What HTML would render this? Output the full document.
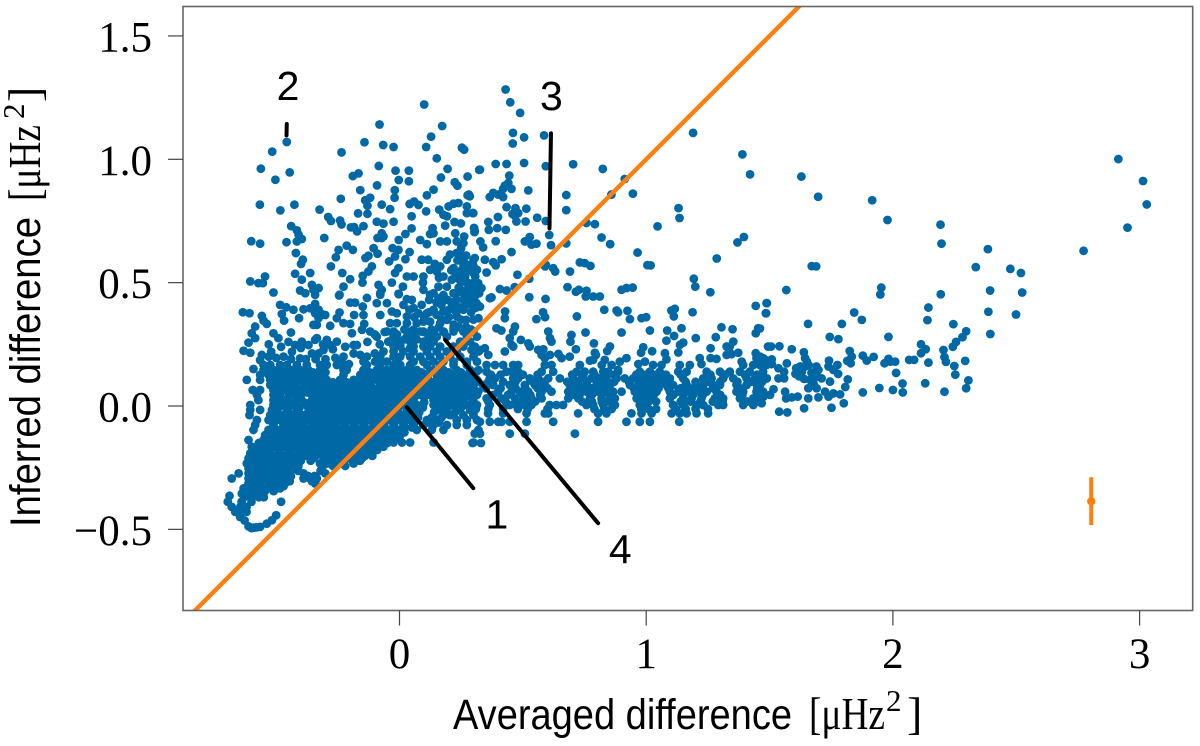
<!DOCTYPE html>
<html lang="en">
<head>
<meta charset="utf-8">
<title>Inferred vs averaged difference</title>
<style>
html,body{margin:0;padding:0;background:#fff;}
svg{display:block;}
.tick-label{font-family:"Liberation Serif",serif;font-size:43px;fill:#000;}
.sans-title{font-family:"Liberation Sans",sans-serif;font-size:43px;fill:#000;}
.serif-title{font-family:"Liberation Serif",serif;font-size:46px;fill:#000;}
.note{font-family:"Liberation Sans",sans-serif;font-size:41px;fill:#000;}
</style>
</head>
<body>
<svg id="chart" xmlns="http://www.w3.org/2000/svg" width="1200" height="746" viewBox="0 0 1200 746">
  <rect x="0" y="0" width="1200" height="746" fill="#fff"/>
  <defs><clipPath id="plot-clip"><rect x="183" y="6.5" width="1009.7" height="604"/></clipPath></defs>
  <g id="dots" clip-path="url(#plot-clip)"></g>
  <g id="overlays" clip-path="url(#plot-clip)"></g>
  <rect x="183" y="6.5" width="1009.7" height="604" fill="none" stroke="#666" stroke-width="1.6"/>
  <g id="axes"></g>
  <g>
    <text class="sans-title" x="453" y="729" textLength="339" lengthAdjust="spacingAndGlyphs">Averaged difference</text>
    <text class="serif-title" x="809" y="729" textLength="76" lengthAdjust="spacingAndGlyphs">[μHz</text>
    <text class="serif-title" x="886" y="711" style="font-size:31px">2</text>
    <text class="serif-title" x="907" y="729">]</text>
  </g>
  <g transform="translate(40,527) rotate(-90)">
    <text class="sans-title" x="0" y="0" textLength="310" lengthAdjust="spacingAndGlyphs">Inferred difference</text>
    <text class="serif-title" x="326" y="0" textLength="76" lengthAdjust="spacingAndGlyphs">[μHz</text>
    <text class="serif-title" x="408" y="-16" style="font-size:31px">2</text>
    <text class="serif-title" x="425" y="0">]</text>
  </g>
</svg>
<script>
const xTicks = [0, 1, 2, 3];
const xTickLabels = ["0", "1", "2", "3"];
const yTicks = [-0.5, 0, 0.5, 1, 1.5];
const yTickLabels = ["\u22120.5", "0.0", "0.5", "1.0", "1.5"];

const upperFanPoints = [[.1,1.222],[-.081,1.141],[.173,1.135],[-.142,1.069],[-.235,1.028],[-.457,1.07],[-.516,1.031],[-.066,1.058],[-.024,1.05],[.108,1.05],[.128,1.092],[.253,1.047],[.262,1.039],[.151,1.004],[-.562,.962],[-.445,.947],[-.503,.917],[-.084,.973],[-.016,.954],[.038,.954],[-.189,.932],[-.166,.943],[-.003,.916],[.038,.911],[.168,.926],[.195,.961],[.276,.93],[.323,.957],[-.091,.894],[-.159,.875],[.224,.907],[.235,.893],[.138,.877],[-.019,.875],[-.02,.844],[.111,.854],[-.238,.84],[-.139,.834],[-.119,.844],[-.13,.812],[-.13,.779],[-.072,.816],[-.038,.798],[.276,.854],[.281,.857],[-.566,.816],[-.426,.816],[-.483,.793],[-.324,.796],[-.168,.781],[-.289,.766],[-.278,.75],[-.241,.752],[-.235,.736],[-.197,.724],[-.184,.725],[-.146,.729],[-.172,.708],[-.092,.747],[-.065,.739],[-.024,.747],[.049,.769],[.049,.72],[.108,.789],[.041,.819],[.059,.829],[.077,.815],[.161,.796],[.178,.775],[.192,.769],[.199,.809],[.219,.82],[.239,.823],[.273,.809],[.273,.782],[.297,.782],[.223,.746],[.249,.74],[.185,.731],[.134,.721],[.124,.697],[.138,.7],[.303,.72],[.304,.705],[.024,.697],[-.072,.7],[-.065,.687],[-.089,.681],[-.072,.681],[-.003,.673],[.084,.673],[.111,.656],[.165,.667],[.192,.667],[.226,.7],[.262,.687],[.232,.667],[.259,.66],[-.439,.729],[-.416,.712],[-.409,.694],[-.416,.667],[-.396,.677],[-.601,.668],[-.565,.658],[-.458,.664],[-.305,.681],[-.42,.62],[-.392,.593],[-.399,.576],[-.247,.633],[-.214,.65],[-.189,.633],[-.258,.603],[-.105,.64],[-.089,.617],[-.138,.6],[-.126,.609],[-.028,.64],[-.004,.633],[-.018,.606],[.041,.624],[.024,.595],[-.042,.586],[-.278,.566],[-.112,.566],[-.126,.545],[-.149,.528],[-.004,.559],[-.018,.539],[-.031,.5],[-.232,.539],[-.2,.514],[-.227,.484],[-.15,.5],[-.423,.536],[-.362,.539],[-.396,.512],[-.545,.525],[-.605,.505],[-.572,.498],[-.554,.498],[-.511,.46],[-.403,.468],[-.355,.491],[-.349,.471],[-.328,.478],[-.382,.457],[-.342,.451],[-.245,.448],[.03,.525],[.057,.525],[.097,.525],[.095,.5],[.097,.471],[-.085,.491],[-.072,.471],[-.078,.451],[.014,.484],[-.003,.453],[.09,.593],[.116,.593],[.143,.576],[.124,.552],[.151,.545],[.165,.566],[.178,.525],[.158,.484],[.138,.457]];

const centralColumnPoints = [[.259,.593],[.273,.573],[.253,.552],[.266,.525],[.259,.505],[.28,.484],[.259,.457],[.3,.593],[.314,.552],[.307,.525],[.205,.614],[.192,.593],[.219,.559],[.212,.512],[.192,.484],[.232,.62],[.286,.457],[.314,.471],[.232,.457],[.3,.43],[.259,.43],[.219,.457],[.178,.45],[.24,.54],[.27,.61],[.285,.55],[.235,.59],[.275,.5],[.24,.48],[.3,.5],[.21,.55],[.245,.51],[.28,.44],[.23,.43],[.195,.43],[.16,.52],[.29,.47],[.25,.64],[.245,.62],[.26,.57],[.225,.52],[.25,.47],[.27,.41],[.24,.4],[.21,.42],[.17,.41],[.15,.42],[.12,.43],[.09,.41],[.2,.39],[.23,.38],[.25,.35],[.2,.36],[.17,.35],[.29,.38],[.3,.35],[.22,.33],[.16,.32],[.13,.31],[.24,.32],[.27,.32],[.29,.31],[.1,.36],[.12,.38],[.15,.37],[.06,.36],[.04,.39]];

const rightUpperPoints = [[.43,1.283],[.449,1.231],[.489,1.188],[.46,1.107],[.505,1.089],[.459,1.064],[.586,1.097],[.39,.981],[.434,.981],[.505,.985],[.326,.958],[.593,.972],[.704,.98],[.824,.961],[.445,.934],[.427,.893],[.441,.904],[.454,.88],[.42,.88],[.522,.874],[.366,.847],[.38,.864],[.4,.857],[.42,.847],[.676,.855],[.859,.857],[.913,.92],[.946,.861],[1.19,1.107],[1.39,1.02],[1.421,.939],[1.131,.802],[1.135,.762],[1.046,.728],[.676,.794],[.434,.806],[.47,.802],[.514,.8],[.458,.778],[.481,.782],[.468,.771],[.399,.766],[.36,.746],[.362,.714],[.396,.721],[.431,.714],[.474,.748],[.511,.748],[.558,.763],[.593,.75],[.758,.742],[.792,.737],[.607,.693],[.528,.685],[.508,.667],[.535,.654],[.555,.658],[.614,.652],[.676,.659],[.819,.683],[.854,.656],[.965,.622],[.39,.668],[.328,.667],[.339,.643],[.454,.624],[.285,.85],[.299,.782],[.302,.722],[.305,.709],[.346,.593],[.38,.583],[.39,.57],[.414,.595],[.353,.541],[.305,.6],[.299,.57],[.312,.55],[.299,.54],[.593,.572],[.623,.559],[.631,.545],[.59,.566],[.691,.545],[.731,.582],[.751,.579],[.774,.568],[.478,.532],[.526,.516],[1.005,.571],[1.018,.57],[1.286,.598],[1.37,.663],[1.396,.685],[1.193,.516],[1.199,.484],[1.26,.461],[.681,.482],[.715,.463],[.727,.471],[.758,.467],[.755,.444],[.785,.444],[.812,.444],[.9,.471],[.92,.478],[.945,.48],[.407,.474],[.434,.468],[.467,.482],[.526,.441],[.592,.434],[.373,.44],[.366,.437],[.319,.498],[.332,.478],[.323,.457],[.305,.444],[.312,.417],[.326,.403],[.299,.403],[.428,.383],[.427,.356],[.582,.38],[.59,.36],[.555,.352],[.719,.363],[.83,.39],[.88,.387],[.886,.38],[.924,.386],[.934,.352],[.981,.356],[1,.36],[1.102,.387],[1.116,.394],[1.112,.363],[1.188,.38],[1.444,.406],[1.488,.417],[1.485,.376]];

const aboveBandPoints = [[1.015,.306],[.9,.298],[1.085,.306],[1.113,.284],[1.143,.315],[1.082,.265],[1.15,.257],[1.137,.248],[1.13,.217],[1.201,.275],[1.305,.319],[1.35,.311],[1.282,.279],[1.444,.295],[1.454,.315],[1.353,.261],[1.326,.241],[1.339,.241],[1.261,.234],[1.326,.207],[1.346,.21],[1.373,.216],[1.444,.214],[1.494,.241],[.468,.322],[.393,.315],[.413,.306],[.461,.302],[.603,.302],[.61,.275],[.616,.261],[.697,.288],[.693,.261],[.754,.298],[.788,.254],[.492,.268],[.522,.254],[.528,.241],[.447,.275],[.454,.248],[.427,.221],[.461,.241],[.715,.23],[.853,.241],[.842,.223],[.792,.216],[.796,.207],[.988,.238],[.979,.216],[1.024,.222],[1.076,.214],[1.082,.189],[.562,.228],[.583,.23],[.576,.207],[.589,.194],[.644,.211],[.61,.207],[.657,.194],[.69,.2],[1.217,.194],[1.224,.17],[1.261,.194],[1.285,.191],[1.387,.18],[1.447,.194],[1.474,.194],[1.494,.18],[.92,.194],[.893,.18],[.886,.146],[.995,.18],[.968,.17],[.772,.184],[.785,.187],[.832,.187],[.305,.241],[.346,.234],[.326,.227],[.292,.227],[.36,.207]];

const bandRows = [
 [.166,[.353,.387,.42,.461,.481,.589,.616,.731,.82,.86,1.028,1.062,1.136,1.177,1.393,1.434,1.461,1.488]],
 [.139,[.312,.353,.434,.454,.481,.576,.623,.718,.751,.785,.826,.846,.886,.974,1.015,1.055,1.13,1.164,1.245,1.299,1.339,1.38,1.42,1.474]],
 [.112,[.366,.387,.461,.481,.528,.562,.603,.65,.704,.738,.778,.812,.839,.88,.913,.947,.988,1.022,1.055,1.096,1.15,1.231,1.265,1.312,1.353,1.407,1.441,1.488]],
 [.085,[.299,.339,.38,.447,.508,.549,.589,.69,.725,.758,.799,.826,.853,.934,.968,1.001,1.035,1.082,1.109,1.164,1.231,1.272,1.299,1.366,1.407,1.461]],
 [.058,[.292,.319,.4,.454,.488,.522,.576,.616,.684,.718,.758,.805,.839,.866,.9,.954,.981,1.015,1.042,1.096,1.13,1.164,1.204,1.245,1.285,1.366,1.393,1.447,1.474]],
 [.031,[.299,.353,.413,.468,.508,.535,.576,.684,.725,.772,.819,.853,.873,.961,.988,1.022,1.096,1.15,1.184,1.224,1.278,1.312,1.38,1.434,1.461]],
 [.004,[.292,.312,.366,.447,.474,.508,.535,.609,.636,.663,.758,.785,.826,.873,.974,1.001,1.109,1.15,1.204,1.231,1.292,1.312,1.393,1.434]],
 [-.03,[.299,.359,.42,.515,.589,.603,.724,.805,.839,.94,.981,1.022,1.103,1.136,1.164,1.204,1.251]],
 [-.064,[.326,.366,.4,.413,.447,.515,.623,.805,.92,.974,1.015,1.134]],
 [-.112,[.326,.711,.305,.447,.508]],
 [-.15,[.296,.33]]
];

const bandFillRows = [
 [.127,[.37,.41,.5,.56,.7,.745,.79,.83,.87,.96,1,1.04,1.08,1.14,1.26,1.32,1.4,1.45]],
 [.098,[.32,.36,.42,.47,.54,.58,.68,.72,.76,.8,.83,.87,.93,.97,1.01,1.04,1.07,1.16,1.2,1.25,1.3,1.37,1.43,1.47]],
 [.072,[.3,.35,.41,.47,.51,.56,.6,.7,.74,.78,.82,.85,.95,.98,1.01,1.05,1.09,1.14,1.19,1.22,1.27,1.38,1.45]],
 [.045,[.31,.38,.44,.5,.53,.57,.7,.73,.78,.82,.86,.97,1,1.03,1.11,1.15,1.19,1.23,1.3,1.39,1.45]],
 [.018,[.3,.36,.43,.48,.52,.55,.74,.78,.82,.85,.98,1.01,1.04,1.14,1.18,1.22,1.27,1.31,1.41,1.45]],
 [-.012,[.31,.36,.42,.48,.52,.6,.79,.83,.86,.98,1.01,1.04,1.12,1.16,1.2,1.25]]
];

const farRightPoints = [[2.914,1.001],[3.014,.912],[3.029,.817],[2.951,.723],[2.773,.629],[1.629,.93],[1.697,.848],[1.916,.834],[1.978,.754],[2.193,.735],[2.197,.658],[2.385,.636],[2.336,.563],[2.476,.556],[2.519,.539],[2.394,.468],[2.524,.46],[2.387,.382],[2.499,.371],[2.395,.292],[1.671,.567],[1.689,.566],[1.568,.47],[1.953,.48],[1.949,.452],[2.194,.453],[2.144,.399],[2.14,.348],[1.489,.417],[1.486,.376],[1.461,.314],[1.656,.333],[1.793,.333],[1.843,.379],[1.874,.349],[2.245,.332],[2.297,.303],[2.282,.279],[2.256,.26],[2.243,.24],[1.744,.28],[1.779,.271],[1.982,.28],[1.506,.241],[1.54,.242],[1.59,.23],[1.639,.218],[1.644,.194],[1.651,.18],[1.624,.16],[1.644,.16],[1.658,.166],[1.631,.139],[1.608,.153],[1.825,.223],[1.833,.2],[1.815,.183],[1.829,.173],[1.878,.204],[1.894,.184],[1.922,.199],[1.966,.173],[1.982,.191],[1.989,.18],[2.009,.18],[2.066,.187],[2.086,.187],[2.114,.25],[2.133,.23],[2.114,.214],[2.144,.176],[2.205,.227],[2.209,.198],[2.215,.179],[2.249,.162],[2.253,.127],[2.293,.183],[2.306,.104],[2.297,.072],[2.013,.134],[2.039,.091],[2.04,.055],[2,.065],[1.945,.073],[1.878,.055],[2.131,.092],[2.209,.058],[1.817,.108],[1.807,.077],[1.778,.13],[1.775,.166],[1.741,.184],[1.739,.16],[1.759,.146],[1.698,.146],[1.691,.119],[1.664,.106],[1.711,.112],[1.745,.099],[1.657,.072],[1.691,.072],[1.678,.092],[1.725,.058],[1.698,.035],[1.739,.038],[1.759,.051],[1.786,.047],[1.657,.031],[1.801,.011],[1.751,-.007],[1.64,-.009],[1.539,-.023],[1.572,-.026],[1.614,.038],[1.59,.035],[1.567,.031],[1.563,.058],[1.516,.068],[1.502,.045],[1.475,.038],[1.468,.011],[1.461,.119],[1.489,.112],[1.536,.153],[1.536,.112],[1.559,.112],[1.559,.139],[1.57,.173],[1.509,.189],[1.509,.17],[1.482,.187],[1.475,.17],[1.461,.2],[1.62,.12],[1.67,.135],[1.64,.11],[1.605,.13],[1.69,.16]];

const leftSparsePoints = [[-.484,.41],[-.459,.4],[-.43,.39],[-.477,.373],[-.468,.346],[-.635,.38],[-.608,.376],[-.558,.365],[-.551,.346],[-.538,.333],[-.389,.392],[-.362,.396],[-.342,.414],[-.328,.39],[-.315,.373],[-.301,.369],[-.342,.376],[-.328,.356],[-.407,.356],[-.349,.329],[-.335,.329],[-.281,.325],[-.243,.379],[-.254,.356],[-.2,.419],[-.18,.419],[-.149,.403],[-.146,.369],[-.184,.369],[-.227,.336],[-.2,.333],[-.143,.333],[-.092,.417],[-.051,.417],[-.078,.369],[-.031,.383],[-.011,.376],[-.132,.438],[-.243,.451],[-.078,.457],[-.004,.455],[.03,.433],[.05,.43],[.016,.41],[.057,.397],[.077,.376],[.03,.363],[.111,.376],[.124,.451],[.158,.437],[.185,.43],[.219,.403],[.178,.383],[.138,.39],[.232,.363],[.259,.39],[.286,.424],[.307,.397],[.27,.349],[.32,.356],[-.038,.336],[-.011,.336],[.03,.336],[.07,.336],[.097,.342],[.057,.309],[.084,.302],[.124,.342],[.165,.336],[.192,.349],[.219,.315],[-.585,.322],[-.599,.295],[-.585,.275],[-.612,.257],[-.632,.224],[-.605,.216],[-.558,.207],[-.565,.186],[-.592,.15],[-.53,.25],[-.511,.295],[-.491,.275],[-.44,.298],[-.45,.26],[-.423,.247],[-.396,.261],[-.369,.247],[-.342,.268],[-.335,.275],[-.295,.268],[-.254,.261],[-.281,.247],[-.436,.22],[-.403,.193],[-.355,.213],[-.328,.213],[-.308,.227],[-.227,.2],[-.193,.295],[-.152,.309],[-.119,.302],[-.092,.281],[-.045,.261],[-.186,.247],[-.173,.247],[-.186,.213],[-.159,.207],[-.1,.213],[-.078,.18],[-.018,.268],[.043,.281],[.003,.247],[.097,.3],[.043,.234],[-.53,.2],[-.5,.195],[-.47,.2],[-.44,.19],[-.38,.19],[-.34,.19],[-.3,.19],[-.26,.195],[-.235,.18],[-.205,.17],[-.4,.235],[-.48,.24],[-.52,.22],[-.31,.25],[-.27,.23],[-.22,.24],[-.13,.26],[-.08,.25],[-.1,.29],[-.06,.3],[-.01,.29],[.02,.27],[.07,.27],[.11,.26],[.02,.31],[.14,.3],[.18,.3]];

const coreRows = [
 [.302,[-.051,-.024,.043,.097,.138,.178,.219,.259,.3]],
 [.281,[-.024,.03,.057,.118,.151,.192,.273,.314]],
 [.261,[-.045,.003,.043,.097,.138,.246,.286]],
 [.241,[-.024,.003,.057,.097,.124,.165,.219,.259,.3]],
 [.221,[-.065,-.024,.016,.057,.111,.151,.192,.232,.3,.32]],
 [.2,[-.132,-.078,-.024,.003,.043,.084,.124,.165,.205,.246,.3]],
 [.18,[-.146,-.099,-.051,-.011,.057,.097,.138,.178,.219,.273,.314]],
 [.166,[-.551,-.524,-.484,-.457,-.416,-.376,-.322,-.295,-.254,-.227,-.132,-.078,-.024,.003,.043,.111,.165,.219,.273]],
 [.146,[-.551,-.511,-.47,-.436,-.403,-.369,-.322,-.227,-.214,-.146,-.092,-.051,-.011,.03,.07,.138,.178,.232,.286,.32]],
 [.126,[-.565,-.531,-.497,-.457,-.416,-.376,-.335,-.227,-.159,-.105,-.065,-.024,.016,.057,.097,.151,.192,.219,.259,.3]],
 [.106,[-.619,-.565,-.524,-.497,-.457,-.416,-.369,-.335,-.295,-.241,-.186,-.146,-.092,-.051,-.011,.03,.07,.111,.151,.192,.232,.273,.314]],
 [.085,[-.524,-.497,-.457,-.423,-.369,-.308,-.268,-.227,-.186,-.132,-.078,-.038,.003,.043,.084,.124,.165,.205,.246,.3]],
 [.065,[-.595,-.565,-.511,-.47,-.43,-.403,-.349,-.295,-.254,-.214,-.173,-.132,-.092,-.051,-.011,.03,.07,.111,.151,.192,.239,.286]],
 [.045,[-.578,-.511,-.484,-.423,-.355,-.322,-.281,-.241,-.2,-.159,-.119,-.078,-.038,.003,.043,.084,.124,.165,.205,.273,.314]],
 [.024,[-.572,-.511,-.47,-.416,-.355,-.308,-.268,-.227,-.186,-.146,-.105,-.065,-.024,.016,.057,.138,.178,.219,.259]],
 [.004,[-.605,-.511,-.47,-.43,-.349,-.308,-.268,-.227,-.186,-.146,-.105,-.065,-.024,.016,.07,.138,.178,.219,.273,.314]],
 [-.016,[-.605,-.565,-.517,-.457,-.416,-.349,-.308,-.268,-.227,-.186,-.146,-.105,-.065,-.024,.03,.07,.165,.232,.286]],
 [-.037,[-.608,-.524,-.47,-.43,-.389,-.349,-.308,-.268,-.227,-.186,-.146,-.105,-.065,-.024,.016,.057,.178,.205,.259,.3]],
 [-.057,[-.578,-.531,-.484,-.443,-.403,-.362,-.322,-.281,-.241,-.2,-.159,-.119,-.078,-.038,.003,.043,.111,.151,.232,.273,.314]],
 [-.077,[-.585,-.511,-.47,-.43,-.389,-.349,-.308,-.268,-.227,-.186,-.146,-.105,-.065,-.024,.016,.057,.097,.138,.192,.232,.273]],
 [-.097,[-.592,-.531,-.484,-.443,-.403,-.362,-.322,-.281,-.241,-.2,-.159,-.119,-.078,-.038,.003,.07,.131,.178,.32]],
 [-.118,[-.545,-.511,-.47,-.43,-.389,-.349,-.308,-.268,-.227,-.186,-.146,-.105,-.065,-.024,.003]],
 [-.138,[-.612,-.551,-.511,-.47,-.43,-.389,-.349,-.308,-.268,-.227,-.186,-.146,-.105,-.065]],
 [-.148,[.043,.01,-.024,.3,.138]],
 [-.165,[-.599,-.551,-.511,-.47,-.43,-.389,-.349,-.308,-.268,-.227,-.186,-.146,-.105,-.065]],
 [-.192,[-.605,-.565,-.524,-.484,-.443,-.403,-.362,-.322,-.281,-.241,-.2,-.159,-.119]],
 [-.212,[-.612,-.572,-.531,-.491,-.45,-.403,-.349,-.295,-.254,-.214,-.186,-.152]],
 [-.233,[-.619,-.585,-.545,-.504,-.464,-.423,-.322,-.295,-.241,-.186]],
 [-.253,[-.612,-.572,-.531,-.491,-.45]],
 [-.273,[-.652,-.612,-.572,-.531,-.491,-.45,-.389,-.301]],
 [-.294,[-.68,-.612,-.578,-.538,-.497,-.457,-.389,-.362,-.335]],
 [-.314,[-.612,-.572,-.531,-.491,-.464,-.342]],
 [-.334,[-.632,-.599,-.558,-.518,-.484]],
 [-.355,[-.639,-.612,-.578]]
];

const coreFillRows = [
 [.136,[-.53,-.49,-.45,-.42,-.385,-.35,-.3,-.12,-.07,-.03,.01,.05,.09,.12,.16,.2,.25,.3]],
 [.116,[-.51,-.475,-.44,-.395,-.355,-.31,-.13,-.085,-.045,-.005,.035,.075,.115,.17,.205,.24,.28]],
 [.096,[-.51,-.475,-.435,-.39,-.35,-.315,-.27,-.215,-.165,-.12,-.07,-.03,.01,.05,.09,.13,.17,.21,.25,.29]],
 [.075,[-.51,-.475,-.44,-.39,-.33,-.29,-.25,-.205,-.16,-.11,-.06,-.015,.025,.065,.105,.145,.185,.225,.27]],
 [.055,[-.49,-.45,-.415,-.375,-.32,-.275,-.235,-.195,-.15,-.11,-.07,-.03,.01,.05,.09,.13,.17,.215,.26]],
 [.035,[-.495,-.45,-.4,-.34,-.3,-.26,-.22,-.18,-.14,-.1,-.06,-.02,.02,.06,.1,.145,.185,.24,.29]],
 [.014,[-.49,-.445,-.385,-.33,-.29,-.25,-.205,-.165,-.125,-.085,-.045,-.005,.035,.1,.16,.2,.24]],
 [-.006,[-.49,-.45,-.405,-.37,-.33,-.29,-.25,-.205,-.165,-.125,-.085,-.045,-.005,.045,.095,.15,.195,.25]],
 [-.026,[-.495,-.45,-.41,-.37,-.33,-.29,-.25,-.205,-.165,-.125,-.085,-.045,-.005,.04,.08,.14,.19,.225]],
 [-.047,[-.5,-.45,-.41,-.37,-.33,-.29,-.25,-.205,-.165,-.125,-.085,-.045,-.005,.035,.075,.13,.17]],
 [-.067,[-.51,-.46,-.42,-.385,-.34,-.3,-.26,-.22,-.18,-.14,-.1,-.06,-.02,.02,.06,.115,.16]],
 [-.087,[-.51,-.46,-.42,-.38,-.34,-.3,-.26,-.22,-.18,-.14,-.1,-.06,-.02,.02,.05]],
 [-.107,[-.515,-.465,-.42,-.38,-.34,-.3,-.26,-.22,-.18,-.14,-.1,-.06,-.02,.02]],
 [-.128,[-.53,-.49,-.45,-.41,-.37,-.33,-.29,-.25,-.21,-.17,-.13,-.09,-.045,-.01]],
 [-.15,[-.57,-.53,-.49,-.45,-.41,-.37,-.33,-.29,-.25,-.21,-.17,-.13,-.09,-.05]],
 [-.178,[-.58,-.535,-.49,-.45,-.41,-.37,-.33,-.29,-.25,-.21,-.17,-.13,-.09]],
 [-.202,[-.59,-.545,-.505,-.465,-.425,-.385,-.34,-.3,-.26,-.22,-.18,-.14,-.11]],
 [-.222,[-.6,-.56,-.52,-.48,-.44,-.4,-.36,-.31,-.27,-.23,-.19,-.16]],
 [-.243,[-.6,-.56,-.52,-.48,-.44,-.41,-.31,-.27,-.22]],
 [-.263,[-.6,-.56,-.52,-.48,-.44,-.41,-.32]],
 [-.284,[-.595,-.56,-.52,-.48,-.44,-.37,-.345]],
 [-.305,[-.6,-.56,-.52,-.48,-.445,-.355]],
 [-.325,[-.61,-.57,-.53,-.5,-.47]],
 [-.345,[-.62,-.585,-.545,-.51]],
 [-.37,[-.63,-.6,-.57,-.55]]
];

const bottomHookPoints = [[-.689,-.364],[-.696,-.388],[-.68,-.409],[-.666,-.429],[-.646,-.45],[-.628,-.464],[-.612,-.488],[-.592,-.493],[-.565,-.49],[-.538,-.477],[-.517,-.463],[-.5,-.443],[-.64,-.388],[-.6,-.388],[-.645,-.409],[-.62,-.409],[-.65,-.429],[-.62,-.429],[-.48,-.388],[-.6,-.495],[-.58,-.492]];

const identityLine = [-0.95, 1.75];
const errorBarX = [2.804];
const errorBarMid = [-0.386];
const errorBarLow = [-0.483];
const errorBarHigh = [-0.289];

const note1Line = [[.03,-.005],[.299,-.333]];
const note2Line = [[-.457,1.143],[-.458,1.097]];
const note3Line = [[.614,1.105],[.608,.72]];
const note4Line = [[.185,.268],[.805,-.475]];
const noteLabels = ["1", "2", "3", "4"];
const noteLabelX = [.395, -.452, .616, .895];
const noteLabelY = [-.496, 1.24, 1.2, -.638];

function px(v) { return 399.5 + v * 246.7; }
function py(v) { return 406 - v * 246.7; }

const NS = "http://www.w3.org/2000/svg";
const dotsG = document.getElementById("dots");
const overlaysG = document.getElementById("overlays");
const axesG = document.getElementById("axes");
const rootSvg = document.getElementById("chart");

function addDot(x, y) {
  const c = document.createElementNS(NS, "circle");
  c.setAttribute("cx", px(x));
  c.setAttribute("cy", py(y));
  c.setAttribute("r", 4.4);
  c.setAttribute("fill", "#0069a5");
  
  
  dotsG.appendChild(c);
}

[upperFanPoints, centralColumnPoints, rightUpperPoints, aboveBandPoints, farRightPoints, leftSparsePoints, bottomHookPoints].forEach(function (list) {
  list.forEach(function (p) { addDot(p[0], p[1]); });
});
[bandRows, bandFillRows, coreRows, coreFillRows].forEach(function (rows) {
  rows.forEach(function (row) {
    row[1].forEach(function (x) { addDot(x, row[0]); });
  });
});

const identity = document.createElementNS(NS, "line");
identity.setAttribute("x1", px(identityLine[0]));
identity.setAttribute("y1", py(identityLine[0]));
identity.setAttribute("x2", px(identityLine[1]));
identity.setAttribute("y2", py(identityLine[1]));
identity.setAttribute("stroke", "#ff7f0e");
identity.setAttribute("stroke-width", "4.4");


overlaysG.appendChild(identity);

const errBar = document.createElementNS(NS, "line");
errBar.setAttribute("x1", px(errorBarX[0]));
errBar.setAttribute("x2", px(errorBarX[0]));
errBar.setAttribute("y1", py(errorBarHigh[0]));
errBar.setAttribute("y2", py(errorBarLow[0]));
errBar.setAttribute("stroke", "#ff7f0e");
errBar.setAttribute("stroke-width", "4");


overlaysG.appendChild(errBar);

const errDot = document.createElementNS(NS, "circle");
errDot.setAttribute("cx", px(errorBarX[0]));
errDot.setAttribute("cy", py(errorBarMid[0]));
errDot.setAttribute("r", 4.2);
errDot.setAttribute("fill", "#ff7f0e");


overlaysG.appendChild(errDot);

[note1Line, note2Line, note3Line, note4Line].forEach(function (seg) {
  const l = document.createElementNS(NS, "line");
  l.setAttribute("x1", px(seg[0][0]));
  l.setAttribute("y1", py(seg[0][1]));
  l.setAttribute("x2", px(seg[1][0]));
  l.setAttribute("y2", py(seg[1][1]));
  l.setAttribute("stroke", "#000");
  l.setAttribute("stroke-width", "4");
  l.setAttribute("stroke-linecap", "round");
  
  
  overlaysG.appendChild(l);
});

noteLabels.forEach(function (label, i) {
  const t = document.createElementNS(NS, "text");
  t.setAttribute("class", "note");
  t.setAttribute("x", px(noteLabelX[i]));
  t.setAttribute("y", py(noteLabelY[i]));
  t.setAttribute("text-anchor", "middle");
  
  
  t.textContent = label;
  rootSvg.appendChild(t);
});

xTicks.forEach(function (v, i) {
  const l = document.createElementNS(NS, "line");
  l.setAttribute("x1", px(v));
  l.setAttribute("x2", px(v));
  l.setAttribute("y1", 610.5);
  l.setAttribute("y2", 625.5);
  l.setAttribute("stroke", "#444");
  l.setAttribute("stroke-width", "1.2");
  
  
  axesG.appendChild(l);
  const t = document.createElementNS(NS, "text");
  t.setAttribute("class", "tick-label");
  t.setAttribute("x", px(v));
  t.setAttribute("y", 668);
  t.setAttribute("text-anchor", "middle");
  
  
  t.textContent = xTickLabels[i];
  axesG.appendChild(t);
});

yTicks.forEach(function (v, i) {
  const l = document.createElementNS(NS, "line");
  l.setAttribute("x1", 168);
  l.setAttribute("x2", 183);
  l.setAttribute("y1", py(v));
  l.setAttribute("y2", py(v));
  l.setAttribute("stroke", "#444");
  l.setAttribute("stroke-width", "1.2");
  
  
  axesG.appendChild(l);
  const t = document.createElementNS(NS, "text");
  t.setAttribute("class", "tick-label");
  t.setAttribute("x", 152);
  t.setAttribute("y", py(v) + 15.5);
  t.setAttribute("text-anchor", "end");
  
  
  t.textContent = yTickLabels[i];
  axesG.appendChild(t);
});
</script>
</body>
</html>
